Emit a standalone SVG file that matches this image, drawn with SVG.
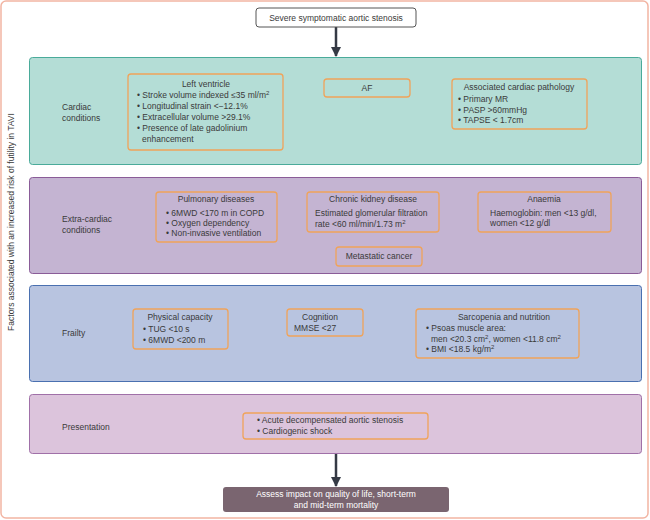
<svg xmlns="http://www.w3.org/2000/svg" width="650" height="520" viewBox="0 0 650 520">
<defs>
<style>
text{font-family:"Liberation Sans",Arial,sans-serif;font-size:8.5px;fill:#3a3a3a}
.c{text-anchor:middle}
.box{fill:none;stroke:#f0a35a;stroke-width:1.3}
.lab{font-size:8.5px}
.w{fill:#ffffff}
</style>
<marker id="ah" viewBox="0 0 10 10" refX="9" refY="5" markerWidth="10" markerHeight="10" markerUnits="userSpaceOnUse" orient="auto">
<path d="M0,0 L10,5 L0,10 z" fill="#353a45"/>
</marker>
</defs>
<rect x="0" y="0" width="650" height="520" fill="#ffffff"/>
<rect x="1" y="1" width="647" height="517" rx="5" fill="none" stroke="#f2b5a3" stroke-width="1.5"/>
<text transform="translate(14,222) rotate(-90)" class="c">Factors associated with an increased risk of futility in TAVI</text>

<g id="connectors">
<line x1="336" y1="27" x2="336" y2="56" stroke="#353a45" stroke-width="2.5" marker-end="url(#ah)"/>
<line x1="336" y1="454" x2="336" y2="486" stroke="#353a45" stroke-width="2.5" marker-end="url(#ah)"/>
</g>

<g id="start">
<rect x="256" y="8" width="160" height="19" rx="3" fill="#ffffff" stroke="#555" stroke-width="1"/>
<text x="336" y="20.5" class="c">Severe symptomatic aortic stenosis</text>
</g>

<g id="cardiac">
<rect x="29.5" y="57.5" width="612" height="107" rx="3" fill="#b4ddd6" stroke="#4aab9a" stroke-width="1"/>
<text x="62" y="110">Cardiac</text>
<text x="62" y="121">conditions</text>
</g>
<g id="lv">
<rect x="128" y="74" width="155" height="76" rx="3" class="box"/>
<text x="206" y="87" class="c">Left ventricle</text>
<text x="137" y="97.5">• Stroke volume indexed ≤35 ml/m<tspan dy="-3" font-size="6">2</tspan></text>
<text x="137" y="108.5">• Longitudinal strain &lt;−12.1%</text>
<text x="137" y="119.5">• Extracellular volume &gt;29.1%</text>
<text x="137" y="130.5">• Presence of late gadolinium</text>
<text x="142" y="141.5">enhancement</text>
</g>
<g id="af">
<rect x="324" y="79" width="86" height="18" rx="3" class="box"/>
<text x="367" y="90.5" class="c">AF</text>
</g>
<g id="acp">
<rect x="452" y="79" width="135" height="50" rx="3" class="box"/>
<text x="519" y="90" class="c">Associated cardiac pathology</text>
<text x="458" y="102">• Primary MR</text>
<text x="458" y="112.5">• PASP &gt;60mmHg</text>
<text x="458" y="123">• TAPSE &lt; 1.7cm</text>
</g>

<g id="extracardiac">
<rect x="29.5" y="177.5" width="612" height="96" rx="3" fill="#c4b4d2" stroke="#8a5c98" stroke-width="1"/>
<text x="62" y="222">Extra-cardiac</text>
<text x="62" y="233">conditions</text>
</g>
<g id="pulm">
<rect x="156" y="192" width="121" height="50" rx="3" class="box"/>
<text x="216" y="202" class="c">Pulmonary diseases</text>
<text x="166" y="216">• 6MWD &lt;170 m in COPD</text>
<text x="166" y="226">• Oxygen dependency</text>
<text x="166" y="236">• Non-invasive ventilation</text>
</g>
<g id="ckd">
<rect x="307" y="192" width="132" height="40" rx="3" class="box"/>
<text x="373" y="202" class="c">Chronic kidney disease</text>
<text x="315" y="216">Estimated glomerular filtration</text>
<text x="315" y="226.5">rate &lt;60 ml/min/1.73 m<tspan dy="-3" font-size="6">2</tspan></text>
</g>
<g id="anaemia">
<rect x="478" y="192" width="133" height="40" rx="3" class="box"/>
<text x="544" y="202" class="c">Anaemia</text>
<text x="490" y="216">Haemoglobin: men &lt;13 g/dl,</text>
<text x="490" y="226">women &lt;12 g/dl</text>
</g>
<g id="meta">
<rect x="336" y="247" width="86" height="19" rx="3" class="box"/>
<text x="379" y="258.5" class="c">Metastatic cancer</text>
</g>

<g id="frailty">
<rect x="29.5" y="285.5" width="612" height="96" rx="3" fill="#b8c4e0" stroke="#4a70b0" stroke-width="1"/>
<text x="62" y="336">Frailty</text>
</g>
<g id="phys">
<rect x="133" y="309" width="95" height="40" rx="3" class="box"/>
<text x="180" y="320" class="c">Physical capacity</text>
<text x="143" y="332">• TUG &lt;10 s</text>
<text x="143" y="343">• 6MWD &lt;200 m</text>
</g>
<g id="cog">
<rect x="287" y="309" width="76" height="27" rx="3" class="box"/>
<text x="320" y="320" class="c">Cognition</text>
<text x="294" y="331">MMSE &lt;27</text>
</g>
<g id="sarc">
<rect x="416" y="309" width="163" height="49" rx="3" class="box"/>
<text x="504" y="320" class="c">Sarcopenia and nutrition</text>
<text x="426" y="331">• Psoas muscle area:</text>
<text x="431" y="341.5">men &lt;20.3 cm<tspan dy="-3" font-size="6">2</tspan><tspan dy="3">, women &lt;11.8 cm</tspan><tspan dy="-3" font-size="6">2</tspan></text>
<text x="426" y="352">• BMI &lt;18.5 kg/m<tspan dy="-3" font-size="6">2</tspan></text>
</g>

<g id="presentation">
<rect x="29.5" y="394.5" width="612" height="59" rx="3" fill="#dcc4dc" stroke="#a070a8" stroke-width="1"/>
<text x="62" y="430">Presentation</text>
</g>
<g id="pres-box">
<rect x="243" y="413" width="185" height="26" rx="3" class="box"/>
<text x="257" y="423">• Acute decompensated aortic stenosis</text>
<text x="257" y="434">• Cardiogenic shock</text>
</g>

<g id="outcome">
<rect x="223" y="487" width="226" height="25" rx="3" fill="#7a6570"/>
<text x="336" y="497" class="c w">Assess impact on quality of life, short-term</text>
<text x="336" y="508" class="c w">and mid-term mortality</text>
</g>
</svg>
